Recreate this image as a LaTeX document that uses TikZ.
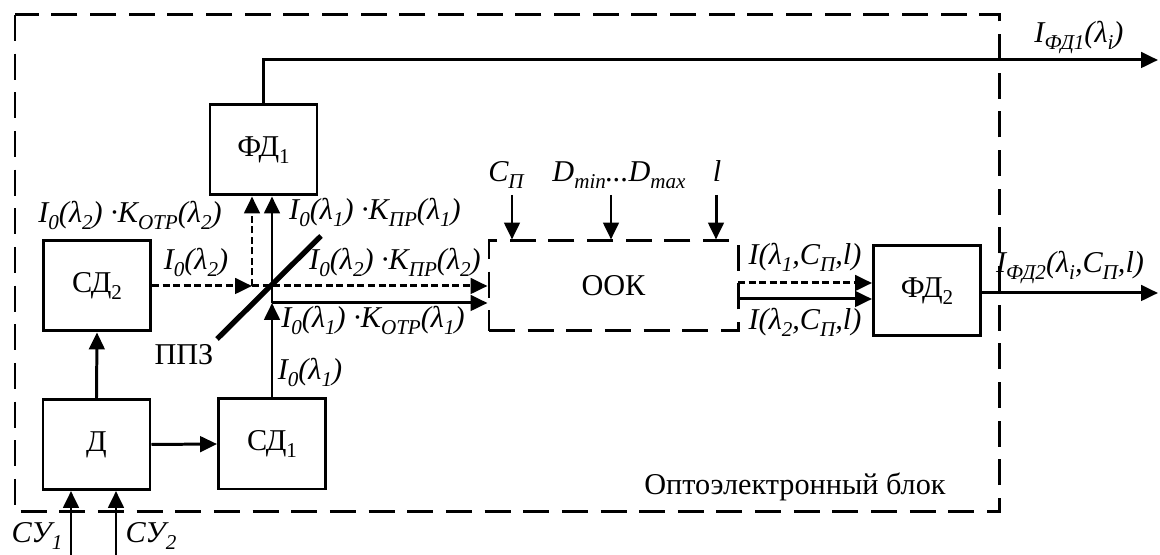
\documentclass[tikz,border=0pt]{standalone}
\usepackage{fontspec}
\setmainfont{Liberation Serif}
\usetikzlibrary{arrows.meta}
\newcommand\sbs[1]{\raisebox{-.22em}{\fontsize{6}{6}\selectfont#1}}

\begin{document}
\begin{tikzpicture}[x=1cm,y=-1cm,line width=0.85pt,
  font=\fontsize{8.6}{10}\selectfont,
  blk/.style={draw, minimum width=1.07cm, minimum height=0.9cm, inner sep=0pt},
  arr/.style={-{Triangle[length=4.8pt,width=4.4pt]}},
  beam/.style={dash pattern=on 2pt off 1pt},
  frame/.style={dash pattern=on 7.4pt off 3.6pt},
  lbl/.style={anchor=base, inner sep=0pt, font=\fontsize{8.6}{10}\selectfont\itshape}]
\useasboundingbox (0,0) rectangle (11.6,5.55);
% opto-electronic block
\draw[frame] (0.15,0.15) rectangle (9.99,5.12);
\node[anchor=base, inner sep=0pt] (title) at (7.95,4.95) {Оптоэлектронный блок};
% blocks
\node[blk] (D) at (0.965,4.445) {Д};
\node[blk] (SD1) at (2.72,4.44) {СД\sbs{1}};
\node[blk] (SD2) at (0.97,2.86) {СД\sbs{2}};
\node[blk] (FD1) at (2.635,1.50) {ФД\sbs{1}};
\node[blk, frame, draw, minimum width=2.49cm] (OOK) at (6.135,2.86) {ООК};
\node[blk] (FD2) at (9.27,2.91) {ФД\sbs{2}};
% beam splitter
\coordinate (mA) at (2.17,3.39);
\coordinate (mB) at (3.21,2.36);
\draw[line width=1.5pt] (mA) -- (mB);
\coordinate (hit1) at (2.72,3.03);
\coordinate (hit2) at (2.52,2.86);
% control inputs
\coordinate (cu1) at (0.71,5.55);
\coordinate (cu2) at (1.16,5.55);
\draw[arr] (cu1) -- (cu1 |- D.south);
\draw[arr] (cu2) -- (cu2 |- D.south);
\node[lbl] (lbCU1) at (0.37,5.43) {СУ\sbs{1}};
\node[lbl] (lbCU2) at (1.51,5.43) {СУ\sbs{2}};
% driver
\draw[arr] (D.north) -- (SD2.south);
\draw[arr] (D.east) -- (SD1.west);
% lambda 1
\draw[arr] (SD1.north) -- (hit1);
\draw[arr] (hit1) -- (hit1 |- FD1.south);
\draw[arr] (hit1) -- (hit1 -| OOK.west);
% lambda 2
\draw[arr,beam] (SD2.east) -- (hit2);
\draw[arr,beam] (hit2) -- (hit2 |- FD1.south);
\draw[arr,beam] (hit2) -- (hit2 -| OOK.west);
% object parameters
\coordinate (inC) at (5.12,1.95);
\coordinate (inD) at (6.11,1.95);
\coordinate (inL) at (7.16,1.95);
\draw[arr] (inC) -- (inC |- OOK.north);
\draw[arr] (inD) -- (inD |- OOK.north);
\draw[arr] (inL) -- (inL |- OOK.north);
\node[lbl] (lbC) at (5.06,1.82) {C\sbs{П}};
\node[lbl] (lbD) at (6.19,1.82) {D\sbs{min}...D\sbs{max}};
\node[lbl] (lbL) at (7.17,1.82) {l};
% to FD2
\coordinate (out1) at (7.38,2.83);
\coordinate (out2) at (7.38,2.99);
\draw[arr,beam] (out1) -- (out1 -| FD2.west);
\draw[arr] (out2) -- (out2 -| FD2.west);
% outputs
\coordinate (end1) at (11.58,0.60);
\coordinate (end2) at (11.58,2.93);
\draw[arr] (FD1.north) -- (FD1.north |- end1) -- (end1);
\draw[arr] (FD2.east |- end2) -- (end2);
% labels
\node[lbl] (lbF1) at (10.79,0.43) {I\sbs{ФД1}(λ\sbs{i})};
\node[lbl] (lbF2) at (10.70,2.73) {I\sbs{ФД2}(λ\sbs{i},C\sbs{П},l)};
\node[lbl] (lbO1) at (8.05,2.65) {I(λ\sbs{1},C\sbs{П},l)};
\node[lbl] (lbO2) at (8.05,3.30) {I(λ\sbs{2},C\sbs{П},l)};
\node[lbl] (lbR2) at (1.30,2.23) {I\sbs{0}(λ\sbs{2}) ·K\sbs{ОТР}(λ\sbs{2})};
\node[lbl] (lbT1) at (3.75,2.20) {I\sbs{0}(λ\sbs{1}) ·K\sbs{ПР}(λ\sbs{1})};
\node[lbl] (lbS2) at (1.96,2.70) {I\sbs{0}(λ\sbs{2})};
\node[lbl] (lbT2) at (3.95,2.70) {I\sbs{0}(λ\sbs{2}) ·K\sbs{ПР}(λ\sbs{2})};
\node[lbl] (lbR1) at (3.73,3.28) {I\sbs{0}(λ\sbs{1}) ·K\sbs{ОТР}(λ\sbs{1})};
\node[lbl] (lbS1) at (3.10,3.80) {I\sbs{0}(λ\sbs{1})};
\node[anchor=base, inner sep=0pt] (lbM) at (1.84,3.65) {ППЗ};
\end{tikzpicture}
\end{document}
